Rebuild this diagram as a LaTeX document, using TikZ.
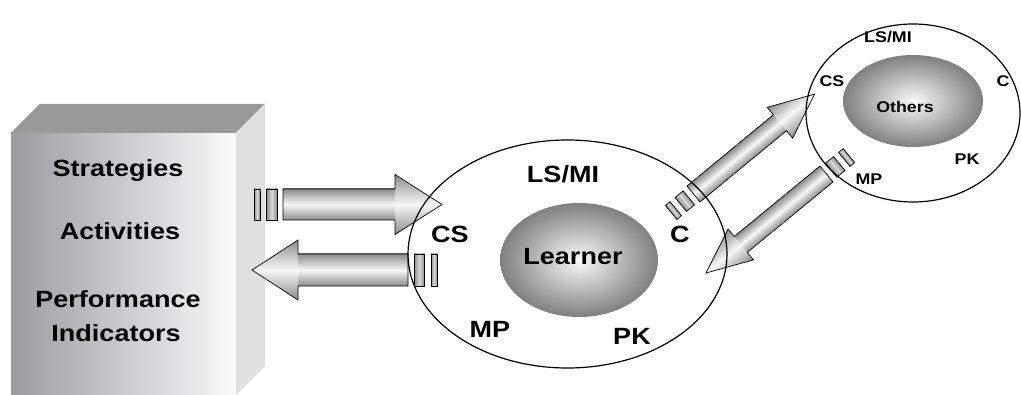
\documentclass[tikz,border=0pt]{standalone}
\usepackage{fontspec}
\setmainfont{Liberation Sans}[FakeStretch=1.15]
\usetikzlibrary{shapes.geometric}

\definecolor{boxdark}{HTML}{9A9CA0}
\definecolor{boxlight}{HTML}{FAFAFA}
\definecolor{boxtop}{HTML}{999999}
\definecolor{boxside}{HTML}{E0E0E0}
\definecolor{arrdark}{gray}{0.55}
\definecolor{arrlight}{gray}{0.97}
\definecolor{balledge}{gray}{0.50}
\definecolor{ballcore}{gray}{0.98}

\tikzset{
  arrowshade/.style={top color=arrdark, bottom color=arrdark, middle color=arrlight},
  barshade/.style={left color=arrdark, right color=arrdark, middle color=gray!30},
  arrowline/.style={draw=black, line width=0.7pt, line join=miter},
  ring/.style={shape=ellipse, draw=black, line width=1.2pt, inner sep=0pt},
  ball/.style={shape=ellipse, inner sep=0pt, inner color=ballcore, outer color=balledge},
  biglabel/.style={font=\fontsize{23.5}{26}\selectfont\bfseries, inner sep=0pt, anchor=base},
  smalllabel/.style={font=\fontsize{15.5}{18}\selectfont\bfseries, inner sep=0pt, anchor=base},
}

% Block arrow with two bars behind its tail.
% #1 tail point, #2 direction angle, #3 total length, #4 shaft half-width,
% #5 head half-width, #6 head length, #7 bar half-height
\newcommand\blockarrow[7]{%
  \begin{scope}[transform canvas={shift={#1}, rotate=#2}]
    \shade[arrowshade] (0,-#4) rectangle ({#3-#6},#4);
    \shade[arrowshade] ({#3-#6},-#5) -- (#3,0) -- ({#3-#6},#5) -- cycle;
    \draw[arrowline] (0,-#4) -- ({#3-#6},-#4) -- ({#3-#6},-#5) -- (#3,0)
      -- ({#3-#6},#5) -- ({#3-#6},#4) -- (0,#4) -- cycle;
    \shade[barshade, arrowline] (-16.5,-#7) rectangle (-6,#7);
    \shade[barshade, arrowline] (-29,-#7) rectangle (-23,#7);
  \end{scope}}

\begin{document}
\begin{tikzpicture}[x=1pt, y=-1pt]
\useasboundingbox (0,0) rectangle (1021,395);

% the block holding the teaching material
\shade[left color=boxdark, right color=boxlight] (11,133) rectangle (236,395);
\fill[boxtop] (11,133) -- (40,104) -- (265,104) -- (236,133) -- cycle;
\fill[boxside] (236,133) -- (265,104) -- (265,366) -- (236,395) -- cycle;

\node[biglabel] (strategies) at (118,177) {Strategies};
\node[biglabel] (activities) at (120,240) {Activities};
\node[biglabel] (performance) at (118,308) {Performance};
\node[biglabel] (indicators) at (116,342) {Indicators};

% exchange arrows
\blockarrow{(283,204.5)}{0}{159}{15.5}{30}{47}{15.5}
\blockarrow{(408,270)}{180}{156}{16}{30}{46}{16}
\blockarrow{(693.5,194)}{39.5}{157}{10.3}{20}{45}{9}
\blockarrow{(826.5,174)}{219.4}{156}{10.3}{20}{45}{9}

% learner
\node[ball, minimum width=158pt, minimum height=114pt] (learner) at (579,260) {};
\node[ring, minimum width=319pt, minimum height=228pt] (learnerring) at (567.5,254) {};
\node[biglabel] (learnertext) at (573,265) {Learner};
\node[biglabel] (lsmi) at (563,183) {LS/MI};
\node[biglabel] (cs) at (450,243) {CS};
\node[biglabel] (c) at (680,243) {C};
\node[biglabel] (mp) at (490,338) {MP};
\node[biglabel] (pk) at (632,345) {PK};

% others
\node[ball, minimum width=140pt, minimum height=92pt] (others) at (913,101) {};
\node[ring, minimum width=214pt, minimum height=178pt] (othersring) at (913,113) {};
\node[smalllabel] (otherstext) at (905,113) {Others};
\node[smalllabel] (olsmi) at (888,43) {LS/MI};
\node[smalllabel] (ocs) at (832,87) {CS};
\node[smalllabel] (oc) at (1003,87) {C};
\node[smalllabel] (opk) at (967,165) {PK};
\node[smalllabel] (omp) at (869,185) {MP};
\end{tikzpicture}
\end{document}
